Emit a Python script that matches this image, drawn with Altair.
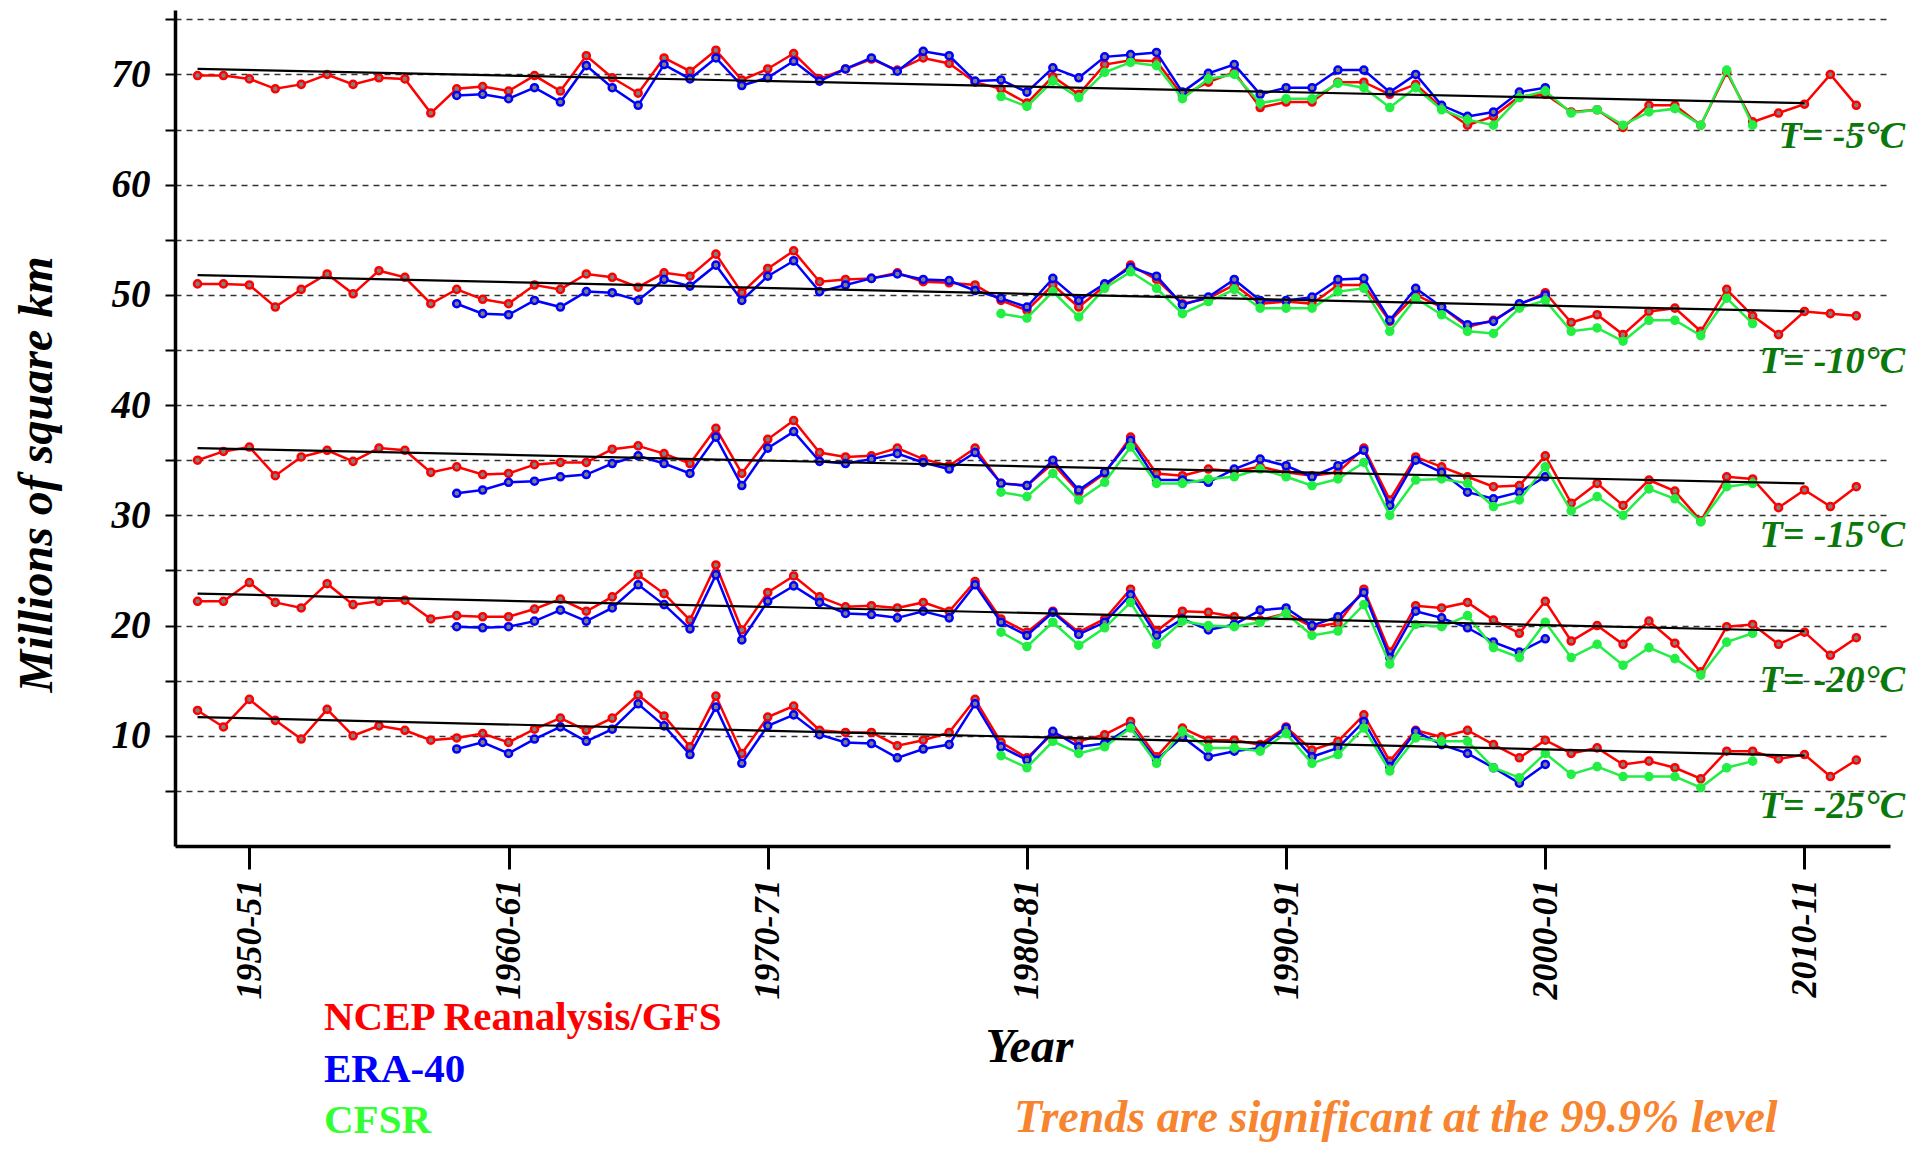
import altair as alt
import pandas as pd

# ---------------- data ----------------
years_ncep = list(range(1948, 2013))
years_era = list(range(1958, 2001))
years_cfsr = list(range(1979, 2009))
thresholds = ["-5", "-10", "-15", "-20", "-25"]

ncep_m5 = [69.9, 69.9, 69.6, 68.7, 69.1, 70.0, 69.1, 69.7, 69.6, 66.5,
           68.7, 68.9, 68.5, 69.9, 68.5, 71.7, 69.7, 68.3, 71.5, 70.3,
           72.2, 69.5, 70.5, 71.9, 69.6, 70.5, 71.4, 70.4, 71.5, 71.0,
           69.3, 68.7, 67.4, 69.8, 68.2, 70.9, 71.3, 71.2, 68.1, 69.3,
           70.2, 67.0, 67.5, 67.5, 69.3, 69.3, 68.2, 69.1, 67.0, 65.4,
           66.2, 68.0, 68.2, 66.6, 66.8, 65.2, 67.2, 67.2, 65.4, 70.2,
           65.7, 66.5, 67.3, 70.0, 67.2]
ncep_m10 = [51.0, 51.0, 50.9, 48.9, 50.5, 51.9, 50.1, 52.2, 51.6, 49.2,
            50.5, 49.6, 49.2, 50.9, 50.5, 51.9, 51.6, 50.7, 52.0, 51.7,
            53.7, 50.2, 52.4, 54.0, 51.2, 51.4, 51.5, 52.0, 51.2, 51.1,
            50.9, 49.5, 48.6, 50.9, 48.9, 50.8, 52.7, 51.4, 49.2, 49.7,
            50.9, 49.2, 49.4, 49.2, 50.9, 50.9, 47.6, 50.0, 48.9, 47.1,
            47.7, 49.1, 50.2, 47.5, 48.2, 46.4, 48.5, 48.8, 46.7, 50.5,
            48.1, 46.4, 48.5, 48.3, 48.1]
ncep_m15 = [35.0, 35.8, 36.2, 33.6, 35.3, 35.9, 34.9, 36.1, 35.9, 33.9,
            34.4, 33.7, 33.8, 34.6, 34.8, 34.8, 36.0, 36.3, 35.6, 34.7,
            37.9, 33.8, 36.9, 38.6, 35.7, 35.3, 35.4, 36.1, 35.1, 34.5,
            36.1, 32.9, 32.7, 34.7, 32.1, 33.8, 37.1, 33.8, 33.6, 34.2,
            34.0, 34.4, 33.9, 33.6, 33.9, 36.1, 31.4, 35.3, 34.4, 33.5,
            32.6, 32.7, 35.4, 31.1, 32.9, 30.9, 33.2, 32.2, 29.5, 33.5,
            33.3, 30.7, 32.3, 30.8, 32.6]
ncep_m20 = [22.2, 22.2, 23.9, 22.1, 21.6, 23.8, 21.9, 22.2, 22.3, 20.6,
            20.9, 20.8, 20.8, 21.5, 22.4, 21.3, 22.6, 24.6, 22.9, 20.5,
            25.5, 19.6, 23.0, 24.5, 22.6, 21.7, 21.8, 21.6, 22.1, 21.3,
            24.0, 20.6, 19.4, 21.3, 19.4, 20.6, 23.3, 19.5, 21.3, 21.2,
            20.8, 20.5, 21.1, 19.9, 20.2, 23.3, 17.6, 21.8, 21.6, 22.1,
            20.5, 19.3, 22.2, 18.6, 20.0, 18.3, 20.4, 18.4, 15.8, 19.9,
            20.1, 18.3, 19.4, 17.3, 18.9]
ncep_m25 = [12.3, 10.8, 13.3, 11.4, 9.7, 12.4, 10.0, 10.9, 10.5, 9.6,
            9.8, 10.2, 9.4, 10.6, 11.6, 10.5, 11.6, 13.7, 11.8, 9.0,
            13.6, 8.4, 11.7, 12.7, 10.5, 10.3, 10.3, 9.1, 9.6, 10.3,
            13.3, 9.4, 8.0, 10.2, 9.5, 10.1, 11.3, 8.1, 10.7, 9.6,
            9.6, 9.2, 10.8, 8.7, 9.5, 11.9, 7.7, 10.5, 9.9, 10.5,
            9.2, 8.0, 9.6, 8.4, 8.9, 7.4, 7.7, 7.1, 6.1, 8.6,
            8.6, 7.9, 8.3, 6.3, 7.8]

era_m5 = [68.1, 68.2, 67.8, 68.8, 67.5, 70.8, 68.8, 67.2, 70.9, 69.6,
          71.5, 69.0, 69.7, 71.2, 69.4, 70.5, 71.5, 70.3, 72.1, 71.7,
          69.4, 69.5, 68.4, 70.6, 69.7, 71.6, 71.8, 72.0, 68.4, 70.1,
          70.9, 68.2, 68.8, 68.8, 70.4, 70.4, 68.4, 70.0, 67.2, 66.2,
          66.6, 68.4, 68.8]
era_m10 = [49.2, 48.3, 48.2, 49.5, 48.9, 50.3, 50.2, 49.5, 51.4, 50.8,
           52.7, 49.5, 51.7, 53.1, 50.3, 50.9, 51.5, 51.9, 51.4, 51.3,
           50.4, 49.7, 48.9, 51.5, 49.5, 51.0, 52.5, 51.7, 49.1, 49.8,
           51.4, 49.5, 49.5, 49.8, 51.4, 51.5, 47.7, 50.6, 48.9, 47.3,
           47.6, 49.2, 50.0]
era_m15 = [32.0, 32.3, 33.0, 33.1, 33.5, 33.7, 34.7, 35.4, 34.7, 33.8,
           37.1, 32.7, 36.1, 37.6, 34.9, 34.7, 35.1, 35.6, 34.8, 34.2,
           35.7, 32.9, 32.7, 35.0, 32.3, 33.9, 36.8, 33.2, 33.2, 33.0,
           34.2, 35.1, 34.5, 33.5, 34.5, 35.9, 30.9, 35.0, 33.9, 32.1,
           31.5, 32.1, 33.5]
era_m20 = [19.9, 19.8, 19.9, 20.4, 21.4, 20.4, 21.6, 23.7, 21.9, 19.7,
           24.6, 18.7, 22.2, 23.6, 22.1, 21.1, 21.0, 20.7, 21.3, 20.7,
           23.7, 20.3, 19.1, 21.2, 19.2, 20.3, 22.8, 19.1, 20.6, 19.6,
           20.1, 21.4, 21.6, 20.0, 20.8, 23.0, 17.1, 21.3, 20.7, 19.8,
           18.5, 17.6, 18.8]
era_m25 = [8.8, 9.4, 8.4, 9.7, 10.8, 9.5, 10.6, 12.9, 10.9, 8.3,
           12.6, 7.5, 10.9, 11.9, 10.1, 9.4, 9.3, 8.0, 8.8, 9.2,
           12.9, 9.0, 7.8, 10.4, 9.0, 9.3, 10.8, 7.8, 9.9, 8.1,
           8.6, 8.9, 10.7, 8.1, 8.9, 11.3, 7.2, 10.4, 9.2, 8.4,
           7.1, 5.7, 7.4]

cfsr_m5 = [68.0, 67.1, 69.4, 67.9, 70.2, 71.1, 70.8, 67.8, 69.6, 70.0,
           67.4, 67.8, 67.8, 69.2, 68.8, 67.0, 68.8, 66.8, 65.9, 65.4,
           67.9, 68.5, 66.5, 66.8, 65.4, 66.6, 66.9, 65.4, 70.4, 65.4]
cfsr_m10 = [48.3, 47.9, 50.3, 48.0, 50.6, 52.1, 50.6, 48.3, 49.4, 50.5,
            48.8, 48.8, 48.8, 50.3, 50.6, 46.7, 49.7, 48.2, 46.7, 46.5,
            48.8, 49.5, 46.7, 47.0, 45.8, 47.7, 47.7, 46.3, 49.7, 47.4]
cfsr_m15 = [32.1, 31.7, 33.8, 31.4, 33.0, 36.2, 32.9, 32.9, 33.3, 33.5,
            34.2, 33.5, 32.7, 33.3, 34.8, 30.0, 33.2, 33.3, 32.9, 30.8,
            31.4, 34.4, 30.4, 31.7, 30.0, 32.4, 31.5, 29.4, 32.6, 32.9]
cfsr_m20 = [19.4, 18.1, 20.3, 18.2, 19.8, 22.1, 18.3, 20.4, 20.0, 19.9,
            20.3, 21.1, 19.1, 19.5, 21.9, 16.5, 20.1, 19.9, 20.9, 18.0,
            17.1, 20.3, 17.1, 18.3, 16.4, 18.0, 17.0, 15.5, 18.5, 19.3]
cfsr_m25 = [8.2, 7.1, 9.5, 8.4, 9.0, 10.7, 7.5, 10.4, 8.9, 8.9,
            8.6, 10.2, 7.5, 8.3, 10.7, 6.8, 9.8, 9.5, 9.5, 7.1,
            6.2, 8.4, 6.5, 7.2, 6.3, 6.3, 6.3, 5.3, 7.1, 7.7]

trend_years = [1948, 2010]
trend_start = [70.5, 51.8, 36.1, 22.9, 11.7]
trend_end = [67.4, 48.5, 32.9, 19.5, 8.2]

label_texts = ["T= -5°C", "T= -10°C", "T= -15°C", "T= -20°C", "T= -25°C"]
label_values = [64.3, 43.9, 28.1, 15.0, 3.5]

tick_years = [1950, 1960, 1970, 1980, 1990, 2000, 2010]
y_ticks = [5, 10, 15, 20, 25, 30, 35, 40, 45, 50, 55, 60, 65, 70, 75]

names = ["NCEP Reanalysis/GFS", "ERA-40", "CFSR"]
colors = ["#FF0000", "#0000FF", "#22EE44"]

# ---------------- build tables ----------------
ncep_all = [ncep_m5, ncep_m10, ncep_m15, ncep_m20, ncep_m25]
era_all = [era_m5, era_m10, era_m15, era_m20, era_m25]
cfsr_all = [cfsr_m5, cfsr_m10, cfsr_m15, cfsr_m20, cfsr_m25]


def long_table(years, series_list):
    rows = []
    for th, vals in zip(thresholds, series_list):
        for y, v in zip(years, vals):
            rows.append({"year": y, "value": v, "threshold": th})
    return pd.DataFrame(rows)


df_ncep = long_table(years_ncep, ncep_all)
df_era = long_table(years_era, era_all)
df_cfsr = long_table(years_cfsr, cfsr_all)

trend_rows = []
for th, a, b in zip(thresholds, trend_start, trend_end):
    trend_rows.append({"year": trend_years[0], "value": a, "threshold": th})
    trend_rows.append({"year": trend_years[1], "value": b, "threshold": th})
df_trend = pd.DataFrame(trend_rows)

df_labels = pd.DataFrame({"text": label_texts, "value": label_values})

W, H = 1715, 836
FONT = "Liberation Serif"

xscale = alt.Scale(domain=[1947.13, 2013.3], nice=False, zero=False)
yscale = alt.Scale(domain=[0, 75.85], nice=False, zero=False)

x_enc = alt.X(
    "year:Q", scale=xscale,
    axis=alt.Axis(
        values=tick_years, grid=False, title="Year",
        labelExpr="datum.value + '-' + slice(toString(datum.value + 1), 2)",
        labelAngle=270, labelFont=FONT, labelFontSize=36, labelFontWeight="bold",
        labelFontStyle="italic", labelColor="black", labelPadding=10,
        tickSize=23, tickWidth=3, tickColor="black",
        domainWidth=3.5, domainColor="black",
        titleFont=FONT, titleFontSize=48, titleFontWeight="bold",
        titleFontStyle="italic", titleColor="black",
        titleX=854, titleY=201, titleBaseline="middle", titleAlign="center",
    ),
)
y_enc = alt.Y(
    "value:Q", scale=yscale,
    axis=alt.Axis(
        values=y_ticks, grid=True, gridDash=[6, 5], gridColor="#333333",
        gridWidth=1.3,
        labelExpr="datum.value % 10 == 0 ? datum.value : ''",
        labelFont=FONT, labelFontSize=39, labelFontWeight="bold",
        labelFontStyle="italic", labelColor="black", labelPadding=15,
        tickSize=10, tickWidth=2, tickColor="black",
        domainWidth=3.5, domainColor="black",
        title="Millions of square km",
        titleFont=FONT, titleFontSize=48, titleFontWeight="bold",
        titleFontStyle="italic", titleColor="black",
        titleX=-138, titleY=464, titleAngle=270,
        titleAlign="center", titleBaseline="middle",
    ),
)


def series_layers(df, color, fill):
    base = alt.Chart(df)
    line = base.mark_line(color=color, strokeWidth=2.5).encode(
        x=x_enc, y=y_enc, detail="threshold:N")
    pts = base.mark_point(filled=False, fill=fill, stroke=color,
                          strokeWidth=2.5, size=50, opacity=1,
                          fillOpacity=1).encode(
        x="year:Q", y="value:Q")
    return [line, pts]


layers = []
layers += series_layers(df_ncep, colors[0], "#808080")
layers += series_layers(df_era, colors[1], "#808080")
layers += series_layers(df_cfsr, colors[2], colors[2])

trend = alt.Chart(df_trend).mark_line(color="black", strokeWidth=2.2).encode(
    x="year:Q", y="value:Q", detail="threshold:N")
layers.append(trend)

tlabels = alt.Chart(df_labels).mark_text(
    align="right", baseline="middle", font=FONT, fontSize=38,
    fontWeight="bold", fontStyle="italic", color="#0B780B").encode(
    x=alt.value(W + 15), y="value:Q", text="text:N")
layers.append(tlabels)

dummy = pd.DataFrame({"k": [0]})


def annot(text, px, py, color, size, italic=False, align="left"):
    props = dict(text=text, align=align, baseline="middle", font=FONT,
                 fontSize=size, fontWeight="bold", color=color)
    if italic:
        props["fontStyle"] = "italic"
    return alt.Chart(dummy).mark_text(**props).encode(
        x=alt.value(px), y=alt.value(py))


layers.append(annot(names[0], 149, 1008, colors[0], 41))
layers.append(annot(names[1], 149, 1060, colors[1], 41))
layers.append(annot(names[2], 149, 1111, "#33FF33", 41))
layers.append(annot("Trends are significant at the 99.9% level",
                    839, 1108, "#F7842F", 46, italic=True))

chart = alt.layer(*layers).properties(
    width=W, height=H,
    autosize=alt.AutoSizeParams(type="none"),
    padding={"left": 175, "top": 10, "right": 25, "bottom": 306},
    background="white",
).configure_view(strokeWidth=0)

chart.save("out.html", embed_options={"renderer": "svg", "actions": False})
